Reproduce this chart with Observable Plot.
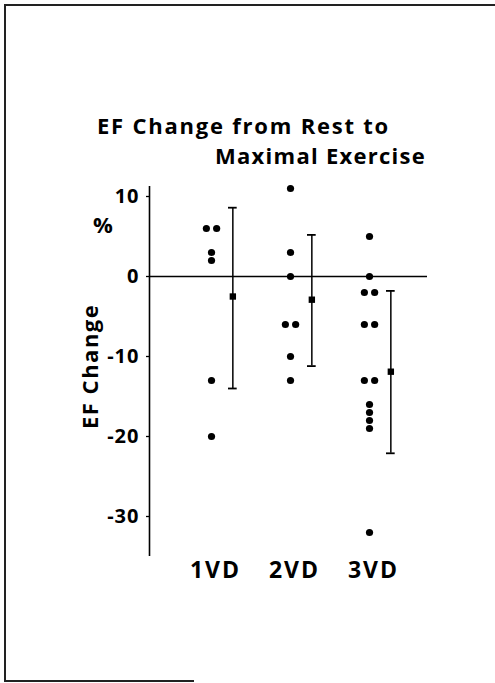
<!DOCTYPE html>
<html>
<head>
<meta charset="utf-8">
<script src="https://cdn.jsdelivr.net/npm/d3@7"></script>
<script src="https://cdn.jsdelivr.net/npm/@observablehq/plot@0.6"></script>
<style>
  html, body { margin: 0; padding: 0; background: #fff; }
  #page { position: relative; width: 495px; height: 683px; overflow: hidden; font-family: "Open Sans", Lato, sans-serif; }
  #page svg { position: absolute; left: 0; top: 0; }
  #page svg [aria-label="x-axis tick label"] text { letter-spacing: 2px; }
  #page svg [aria-label="y-axis tick label"] text { letter-spacing: 1px; }
  .title { position: absolute; font-weight: bold; font-size: 22px; color: #000; white-space: nowrap; line-height: 1; }
  .ylab { position: absolute; font-weight: bold; font-size: 22px; white-space: nowrap; line-height: 1; transform-origin: 0 0; letter-spacing: 1.5px; }
  .unit { position: absolute; font-weight: bold; font-size: 22px; line-height: 1; }
  .bl { position: absolute; background: #222; }
</style>
</head>
<body>
<div id="page">
  <div class="bl" style="left:4px;top:4px;width:491px;height:1.5px"></div>
  <div class="bl" style="left:4px;top:4px;width:1.5px;height:678px"></div>
  <div class="bl" style="left:4px;top:680px;width:190px;height:1.5px"></div>
</div>
<script>
// ---- data ----
const groups = ["1VD", "2VD", "3VD"];
const values1VD = [6, 6, 3, 2, -13, -20];
const values2VD = [11, 3, 0, -6, -6, -10, -13];
const values3VD = [5, 0, -2, -2, -6, -6, -13, -13, -16, -17, -18, -19, -32];
const means = [-2.5, -2.9, -11.9];
const upper = [8.6, 5.2, -1.8];
const lower = [-14, -11.2, -22.1];
const yTicks = [10, 0, -10, -20, -30];
const titleLines = ["EF Change from Rest to", "Maximal Exercise"];
const yLabel = "EF Change";
const yUnit = "%";

// ---- build tables ----
const allValues = [values1VD, values2VD, values3VD];
const points = [];
allValues.forEach((vals, gi) => {
  const seen = new Map();
  vals.forEach(v => {
    const n = vals.filter(w => w === v).length;
    const k = seen.get(v) || 0;
    seen.set(v, k + 1);
    const jitter = n > 1 ? (k - (n - 1) / 2) * 0.13 : 0;
    points.push({group: groups[gi], x: gi + 1 + jitter, value: v});
  });
});
const barOffset = 0.27;
const capHalf = 0.055;
const stats = groups.map((g, i) => ({group: g, x: i + 1 + barOffset, mean: means[i], hi: upper[i], lo: lower[i]}));
const caps = stats.flatMap(s => [{x: s.x, y: s.hi}, {x: s.x, y: s.lo}]);

const xDomain = [0.215, 3.734];
const yDomain = [-35, 11.25];

const chart = Plot.plot({
  width: 495,
  height: 683,
  marginLeft: 149,
  marginRight: 68,
  marginTop: 186,
  marginBottom: 127,
  style: {fontFamily: "'Open Sans', Lato, sans-serif", background: "transparent", color: "#000"},
  x: {domain: xDomain, axis: null},
  y: {domain: yDomain, axis: null},
  marks: [
    Plot.ruleX([xDomain[0]], {stroke: "#000", strokeWidth: 1.6}),
    Plot.ruleY([0], {stroke: "#000", strokeWidth: 1.6}),
    Plot.axisY({ticks: yTicks, label: null, tickSize: 3, tickPadding: 7, fontSize: 20, fontWeight: "bold",
      tickFormat: d => String(d).replace("\u2212", "-"), strokeWidth: 1.3}),
    Plot.axisX({ticks: [1, 2, 3], label: null, tickFormat: d => groups[d - 1], tickSize: 0, tickPadding: 5,
      fontSize: 23, fontWeight: "bold", dx: 4}),
    Plot.ruleX(stats, {x: "x", y1: "lo", y2: "hi", stroke: "#000", strokeWidth: 1.5}),
    Plot.ruleY(caps, {y: "y", x1: d => d.x - capHalf, x2: d => d.x + capHalf, stroke: "#000", strokeWidth: 1.8}),
    Plot.dot(stats, {x: "x", y: "mean", symbol: "square", r: 3.6, fill: "#000", stroke: null}),
    Plot.dot(points, {x: "x", y: "value", r: 3.6, fill: "#000", stroke: null})
  ]
});
const page = document.getElementById("page");
page.appendChild(chart);

function addDiv(cls, text, css) {
  const d = document.createElement("div");
  d.className = cls;
  d.textContent = text;
  Object.assign(d.style, css);
  page.appendChild(d);
  return d;
}
// fit title lines to their extents in the reference by letter-spacing
function fitSpacing(el, target) {
  const n = el.textContent.length;
  const w0 = el.getBoundingClientRect().width;
  el.style.letterSpacing = ((target - w0) / n) + "px";
}
const t1 = addDiv("title", titleLines[0], {left: "97px", top: "114px"});
fitSpacing(t1, 293);
const t2 = addDiv("title", titleLines[1], {top: "144px", left: "0px"});
fitSpacing(t2, 211);
t2.style.left = (426 - t2.getBoundingClientRect().width) + "px";
addDiv("unit", yUnit, {left: "93px", top: "213px"});
const yl = addDiv("ylab", yLabel, {});
const w = yl.getBoundingClientRect().width;
yl.style.left = "78px";
yl.style.top = (366 + w / 2) + "px";
yl.style.transform = "rotate(-90deg)";
</script>
</body>
</html>
